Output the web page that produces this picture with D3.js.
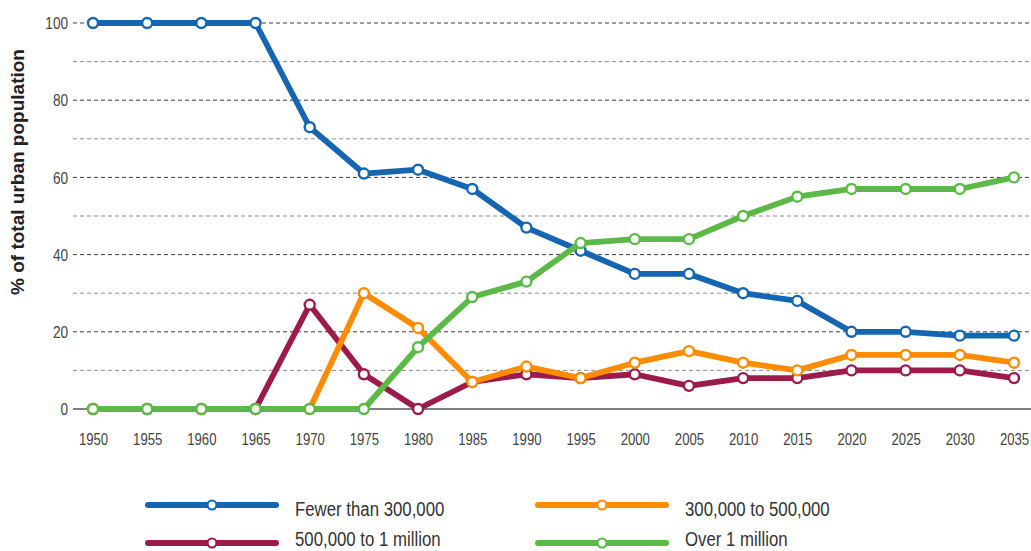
<!DOCTYPE html>
<html><head><meta charset="utf-8">
<script src="https://cdn.jsdelivr.net/npm/d3@7/dist/d3.min.js"></script>
<style>html,body{margin:0;padding:0;background:#fff;}svg{display:block;}</style>
</head><body>
<svg id="c" width="1031" height="551"></svg>
<script>
const years = [1950,1955,1960,1965,1970,1975,1980,1985,1990,1995,2000,2005,2010,2015,2020,2025,2030,2035];
const fewer300k = [100,100,100,100,73,61,62,57,47,41,35,35,30,28,20,20,19,19];
const from300kTo500k = [0,0,0,0,0,30,21,7,11,8,12,15,12,10,14,14,14,12];
const from500kTo1m = [0,0,0,0,27,9,0,7,9,8,9,6,8,8,10,10,10,8];
const over1m = [0,0,0,0,0,0,16,29,33,43,44,44,50,55,57,57,57,60];
const yTicks = [0,20,40,60,80,100];
const yGrid = [10,20,30,40,50,60,70,80,90,100];
const seriesNames = ["Fewer than 300,000","300,000 to 500,000","500,000 to 1 million","Over 1 million"];
const seriesColors = ["#1565b0","#fd8c00","#9b1b4b","#5cb947"];
const seriesValues = [fewer300k, from300kTo500k, from500kTo1m, over1m];
const drawOrder = [0,2,1,3];

const svg = d3.select("#c");
const font = "'Liberation Sans',Arial,sans-serif";
const x = d3.scalePoint().domain(years).range([93,1014]);
const y = d3.scaleLinear().domain([0,100]).range([409,23]);

// gridlines
svg.append("g").selectAll("line").data(yGrid).join("line")
  .attr("x1",73).attr("x2",1031)
  .attr("y1",d=>y(d)).attr("y2",d=>y(d))
  .attr("stroke",d=>d%20===0?"#3a3a3a":"#8a8a8a")
  .attr("stroke-width",1)
  .attr("stroke-dasharray","4,3");
svg.append("line").attr("x1",73).attr("x2",1031).attr("y1",y(0)).attr("y2",y(0))
  .attr("stroke","#555").attr("stroke-width",1.5);

// y axis labels
const yAxis = d3.axisLeft(y).tickValues(yTicks).tickSize(0).tickPadding(0);
const ya = svg.append("g").attr("transform","translate(68,0)").call(yAxis);
ya.select(".domain").remove();
ya.selectAll("text").attr("font-family",font).attr("font-size",16).attr("fill","#444").attr("dy","0.36em")
  .attr("transform","scale(0.85,1)");

// x axis labels
const xAxis = d3.axisBottom(x).tickSize(0).tickPadding(0);
const xa = svg.append("g").attr("transform","translate(0,445)").call(xAxis);
xa.select(".domain").remove();
xa.selectAll("text").attr("font-family",font).attr("font-size",16).attr("fill","#444").attr("dy","0")
  .attr("transform","scale(0.82,1)");

// y title
svg.append("text").attr("transform","translate(24,172) rotate(-90)")
  .attr("text-anchor","middle").attr("font-family",font)
  .attr("font-weight","bold").attr("font-size",19).attr("fill","#222")
  .text("% of total urban population");

// lines
const line = d3.line().x((d,i)=>x(years[i])).y(d=>y(d));
drawOrder.forEach(si=>{
  const g = svg.append("g");
  g.append("path").datum(seriesValues[si]).attr("d",line)
    .attr("fill","none").attr("stroke",seriesColors[si]).attr("stroke-width",5.8)
    .attr("stroke-linejoin","round");
  g.selectAll("circle").data(seriesValues[si]).join("circle")
    .attr("cx",(d,i)=>x(years[i])).attr("cy",d=>y(d)).attr("r",5)
    .attr("fill","#fff").attr("stroke",seriesColors[si]).attr("stroke-width",2.4);
});

// legend
const legendPos = [[148,505,516],[538,505,516],[148,543,546],[538,543,546]];
seriesNames.forEach((name,i)=>{
  const [lx,ly,ty] = legendPos[i];
  const g = svg.append("g");
  g.append("line").attr("x1",lx).attr("x2",lx+128).attr("y1",ly).attr("y2",ly)
    .attr("stroke",seriesColors[i]).attr("stroke-width",6).attr("stroke-linecap","round");
  g.append("circle").attr("cx",lx+64).attr("cy",ly).attr("r",4.5)
    .attr("fill","#fff").attr("stroke",seriesColors[i]).attr("stroke-width",2.2);
  g.append("g").attr("transform",`translate(${lx+147},${ty}) scale(0.8,1)`)
    .append("text").attr("x",0).attr("y",0)
    .attr("font-family",font).attr("font-size",21).attr("fill","#333").text(name);
});
</script>
</body></html>
